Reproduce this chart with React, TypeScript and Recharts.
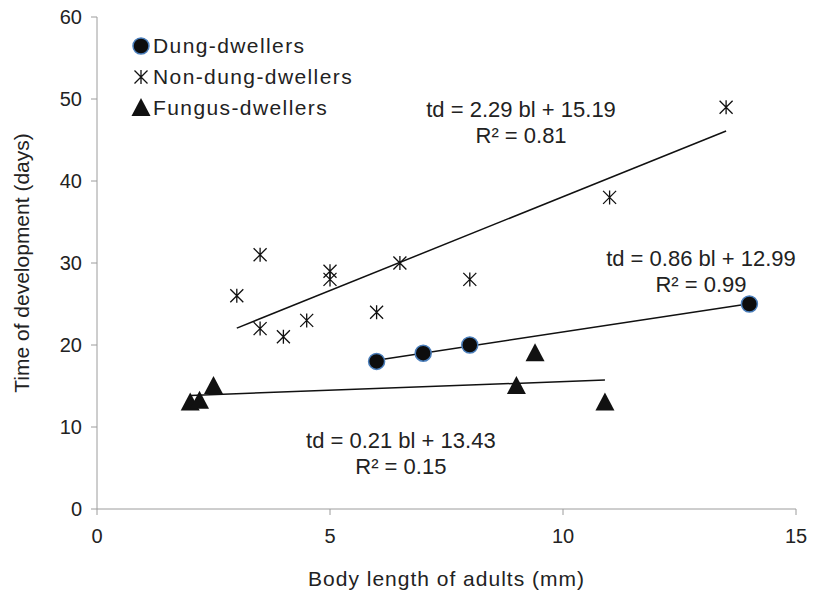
import { ReferenceLine, Scatter, ScatterChart, XAxis, YAxis } from "recharts";

// body length (mm) and development time (days) per group
const dungX = [6, 7, 8, 14];
const dungY = [18, 19, 20, 25];
const nonDungX = [3, 3.5, 3.5, 4, 4.5, 5, 5, 6, 6.5, 8, 11, 13.5];
const nonDungY = [26, 31, 22, 21, 23, 29, 28, 24, 30, 28, 38, 49];
const fungusX = [2, 2.2, 2.5, 9, 9.4, 10.9];
const fungusY = [13, 13.2, 15, 15, 19, 13];

const seriesNames = ["Dung-dwellers", "Non-dung-dwellers", "Fungus-dwellers"];

// linear fits, td = slope * bl + intercept
const slopes = [0.86, 2.29, 0.21];
const intercepts = [12.99, 15.19, 13.43];
const rSquared = [0.99, 0.81, 0.15];

// anchor of each equation label (centre of first line, data units)
const eqX = [12.96, 9.1, 6.52];
const eqY = [29.6, 47.8, 7.4];

const xTicks = [0, 5, 10, 15];
const yTicks = [0, 10, 20, 30, 40, 50, 60];

const FONT = "'Liberation Sans', Arial, sans-serif";
const TEXT = "#222";
const AXIS = "#9c9c9c";

const toPoints = (xs: number[], ys: number[]) => xs.map((x, i) => ({ x, y: ys[i] }));

const groups = [
    toPoints(dungX, dungY),
    toPoints(nonDungX, nonDungY),
    toPoints(fungusX, fungusY),
];

const trends = groups.map((pts, i) => {
    const xs = pts.map((p) => p.x);
    const x1 = Math.min(...xs);
    const x2 = Math.max(...xs);
    return [
        { x: x1, y: slopes[i] * x1 + intercepts[i] },
        { x: x2, y: slopes[i] * x2 + intercepts[i] },
    ];
});

const equations = slopes.map((s, i) => ({
    x: eqX[i],
    y: eqY[i],
    line1: `td = ${s.toFixed(2)} bl + ${intercepts[i].toFixed(2)}`,
    line2: `R² = ${rSquared[i].toFixed(2)}`,
}));

function DotMarker({ cx, cy }: any) {
    return <circle cx={cx} cy={cy} r={8} fill="#0d0d0d" stroke="#4a7ebb" strokeWidth={1.5} />;
}

function StarMarker({ cx, cy }: any) {
    const s = 6.5;
    const d = `M${cx - s},${cy - s}L${cx + s},${cy + s}M${cx - s},${cy + s}L${cx + s},${cy - s}M${cx},${cy - s - 0.5}L${cx},${cy + s + 0.5}`;
    return <path d={d} stroke="#111" strokeWidth={1.3} fill="none" />;
}

function TriangleMarker({ cx, cy }: any) {
    return (
        <polygon
            points={`${cx},${cy - 10} ${cx - 9.5},${cy + 8} ${cx + 9.5},${cy + 8}`}
            fill="#111"
        />
    );
}

function EquationLabel({ cx, cy, payload }: any) {
    return (
        <text x={cx} y={cy} textAnchor="middle" fontFamily={FONT} fontSize={22} fill={TEXT}>
            <tspan x={cx}>{payload.line1}</tspan>
            <tspan x={cx} dy={26}>{payload.line2}</tspan>
        </text>
    );
}

const markers = [DotMarker, StarMarker, TriangleMarker];

function LegendBox() {
    return (
        <div style={{ position: "absolute", left: 130, top: 30, fontFamily: FONT, color: TEXT }}>
            {seriesNames.map((name, i) => {
                const Marker = markers[i];
                return (
                    <div
                        key={name}
                        style={{ display: "flex", alignItems: "center", height: 31, fontSize: 21, letterSpacing: 1.4 }}
                    >
                        <svg width={22} height={24}>
                            <Marker cx={11} cy={12} />
                        </svg>
                        <span style={{ marginLeft: 1 }}>{name}</span>
                    </div>
                );
            })}
        </div>
    );
}

export default function App() {
    return (
        <div style={{ position: "relative", width: 819, height: 590 }}>
            <style>{`body{margin:0}`}</style>
            <ScatterChart width={819} height={590} margin={{ top: 17, right: 23, left: 0, bottom: 0 }}>
                <XAxis
                    type="number"
                    dataKey="x"
                    domain={[0, 15]}
                    ticks={xTicks}
                    height={81}
                    stroke={AXIS}
                    tickSize={6}
                    tickMargin={14}
                    tick={{ fill: TEXT, fontSize: 20, fontFamily: FONT }}
                    label={{
                        value: "Body length of adults (mm)",
                        position: "insideBottom",
                        offset: 4,
                        fill: TEXT,
                        fontSize: 21,
                        fontFamily: FONT,
                        style: { letterSpacing: 1 },
                    }}
                />
                <YAxis
                    type="number"
                    dataKey="y"
                    domain={[0, 60]}
                    ticks={yTicks}
                    width={97}
                    stroke={AXIS}
                    tickSize={6}
                    tickMargin={9}
                    tick={{ fill: TEXT, fontSize: 20, fontFamily: FONT }}
                    label={{
                        value: "Time of development (days)",
                        angle: -90,
                        position: "insideLeft",
                        offset: 22,
                        fill: TEXT,
                        fontSize: 21,
                        fontFamily: FONT,
                        style: { textAnchor: "middle" },
                    }}
                />
                {trends.map((seg, i) => (
                    <ReferenceLine
                        key={`trend-${i}`}
                        segment={seg}
                        stroke="#111"
                        strokeWidth={1.5}
                    />
                ))}
                {groups.map((pts, i) => (
                    <Scatter
                        key={seriesNames[i]}
                        name={seriesNames[i]}
                        data={pts}
                        shape={markers[i]}
                        isAnimationActive={false}
                    />
                ))}
                <Scatter data={equations} shape={EquationLabel} isAnimationActive={false} />
            </ScatterChart>
            <LegendBox />
        </div>
    );
}
